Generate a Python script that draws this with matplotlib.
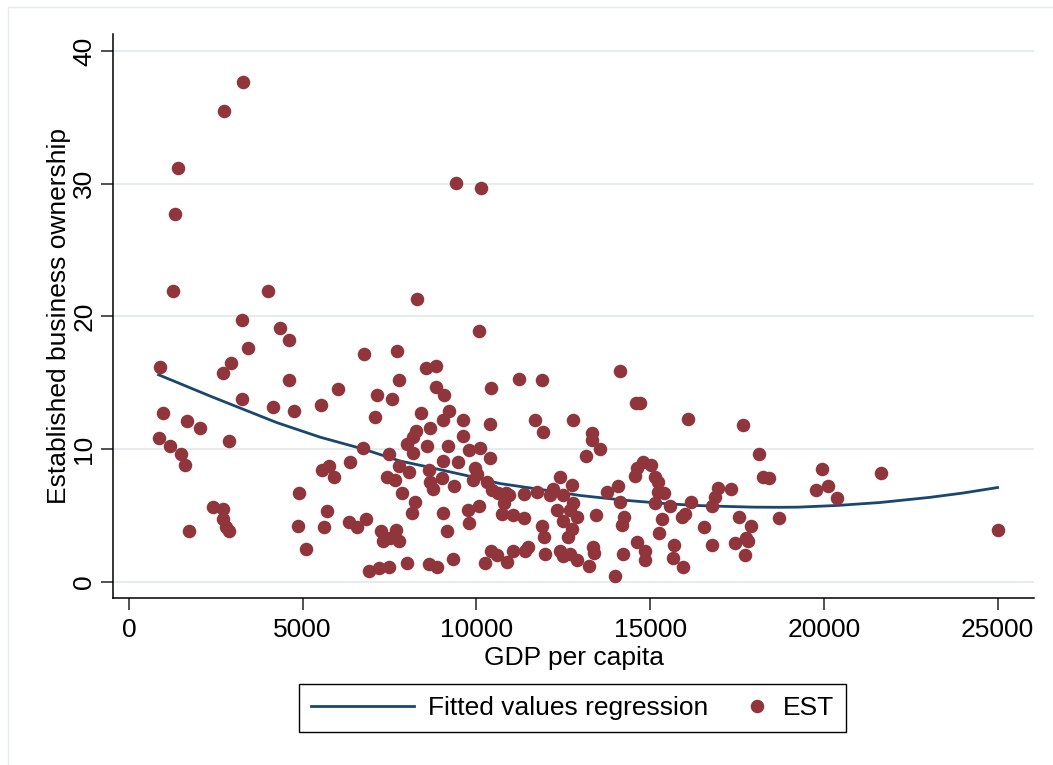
import numpy as np
import matplotlib
matplotlib.use("Agg")
import matplotlib.pyplot as plt
from matplotlib.legend_handler import HandlerPathCollection
from matplotlib.patches import Rectangle

plt.rcParams['font.family'] = ['Liberation Sans', 'DejaVu Sans']

# GDP per capita and established business ownership rate per country-year
gdp = [3281, 2735, 1410, 1324, 1266, 4001, 3252, 4355, 4614, 3434,
       892, 6773, 2927, 2717, 4597, 6008, 3243, 4134, 4750, 5517,
       969, 1680, 2035, 854, 1180, 2888, 1505, 1612, 6745, 6362,
       5546, 5766, 5910, 4902, 5690, 4856, 5613, 2427, 2715, 2697,
       2784, 2879, 1718, 5095, 6341, 6554, 6822, 6917,
       7705, 8560, 8837, 7780, 8837, 9076, 7130, 7561, 7091, 8395,
       8290, 8664, 8261, 8184, 8011, 8568, 7475, 8165, 7780, 8069,
       7418, 7657, 8645, 8674, 8760, 7847, 8233, 8136, 7254, 7303,
       7686, 7780, 7513, 7205, 7493, 8011, 8640, 8856, 9143, 9028,
       9000, 9028, 9220, 9048, 9168,
       9404, 10133, 10075, 10420, 9604, 10391, 9604, 9796, 10103, 10391,
       9480, 9960, 10008, 9911, 9355, 10297, 10441, 10631, 10852, 10948,
       10794, 10727, 11060, 9767, 10084, 9787, 9336, 10248, 10412, 10585,
       10890, 11060,
       11226, 11878, 11687, 11908, 12790, 13318, 13318, 13557, 13145, 11370,
       11734, 12407, 12744, 12215, 12119, 12503, 13750, 14067, 14133, 12311,
       12790, 12694, 12887, 12503, 12744, 12647, 13443, 14258, 14183, 11360,
       11878, 11945, 11495, 11399, 11975, 12407, 12694, 12887, 12503, 13250,
       13366, 13385, 13998, 14210, 14632,
       14133, 14594, 14709, 16082, 17683, 18135, 18240, 18432, 14805, 15017,
       14632, 14565, 15150, 15219, 15219, 15392, 15150, 15573, 15333, 15265,
       14853, 14853, 15688, 15650, 15957, 16177, 16005, 15909, 16561, 16791,
       16945, 16868, 16772, 17329, 17559, 17895, 17751, 17444, 17827, 17732,
       18720, 19942, 19775, 20130, 20371, 21637, 25000]
est = [37.7, 35.5, 31.2, 27.7, 21.9, 21.9, 19.7, 19.1, 18.2, 17.6,
       16.2, 17.2, 16.5, 15.7, 15.2, 14.5, 13.8, 13.2, 12.9, 13.3,
       12.7, 12.1, 11.6, 10.8, 10.2, 10.6, 9.6, 8.8, 10.1, 9.0,
       8.4, 8.7, 7.9, 6.7, 5.3, 4.2, 4.1, 5.6, 5.5, 4.7,
       4.1, 3.8, 3.8, 2.5, 4.5, 4.1, 4.7, 0.8,
       17.4, 16.1, 16.3, 15.2, 14.7, 14.1, 14.1, 13.8, 12.4, 12.7,
       21.3, 11.6, 11.4, 10.9, 10.4, 10.2, 9.6, 9.7, 8.7, 8.3,
       7.9, 7.7, 8.4, 7.5, 7.0, 6.7, 6.0, 5.2, 3.8, 3.1,
       3.9, 3.1, 3.3, 1.0, 1.1, 1.4, 1.3, 1.1, 3.8, 5.2,
       7.8, 9.1, 12.9, 12.2, 10.2,
       30.1, 29.7, 18.9, 14.6, 12.2, 11.9, 11.0, 9.9, 10.1, 9.3,
       9.0, 8.6, 8.1, 7.7, 7.2, 7.5, 6.9, 6.7, 6.7, 6.5,
       5.9, 5.1, 5.0, 5.4, 5.7, 4.4, 1.7, 1.4, 2.3, 2.0,
       1.5, 2.3,
       15.3, 15.2, 12.2, 11.3, 12.2, 11.2, 10.7, 10.0, 9.5, 6.6,
       6.8, 7.9, 7.3, 7.0, 6.5, 6.5, 6.8, 7.2, 6.0, 5.4,
       5.9, 5.4, 4.9, 4.6, 4.0, 3.4, 5.0, 4.9, 4.3, 4.8,
       4.2, 3.4, 2.6, 2.3, 2.1, 2.3, 2.1, 1.6, 1.9, 1.2,
       2.6, 2.2, 0.45, 2.1, 3.0,
       15.9, 13.5, 13.5, 12.3, 11.8, 9.6, 7.9, 7.8, 9.0, 8.8,
       8.6, 8.0, 7.9, 7.5, 6.8, 6.7, 5.9, 5.7, 4.7, 3.7,
       2.3, 1.6, 2.8, 1.8, 1.1, 6.0, 5.1, 4.9, 4.1, 2.8,
       7.1, 6.4, 5.7, 7.0, 4.9, 4.2, 3.3, 2.9, 3.1, 2.0,
       4.8, 8.5, 6.9, 7.2, 6.3, 8.2, 3.9]

# fitted values of the quadratic regression
fit_gdp = [854, 2332, 3290, 4251, 5498, 6745, 7801, 8520, 9720, 10680,
           12119, 12982, 14229, 15380, 16300, 17107, 18000, 18739, 19257,
           20400, 21617, 23057, 24016, 25000]
fit_values = [15.6, 14.0, 13.0, 12.0, 10.9, 10.0, 9.1, 8.7, 8.0, 7.4,
              6.85, 6.5, 6.15, 5.9, 5.75, 5.68, 5.62, 5.61, 5.62,
              5.75, 5.97, 6.36, 6.69, 7.1]

x_ticks = [0, 5000, 10000, 15000, 20000, 25000]
y_ticks = [0, 10, 20, 30, 40]

NAVY = '#1A476F'
MAROON = '#90353B'
GRID = '#E4ECEE'


class MarkerRightHandler(HandlerPathCollection):
    # puts the single legend marker near the right end of the handle box
    def get_xdata(self, legend, xdescent, ydescent, width, height, fontsize):
        x = -xdescent + width - 0.45 * fontsize
        return [x, x], [x]


fig = plt.figure(figsize=(10.53, 7.65), dpi=100)
ax = fig.add_axes([0.1073, 0.2183, 0.8747, 0.7373])

fit_line, = ax.plot(fit_gdp, fit_values, color=NAVY, lw=2.0,
                    label='Fitted values regression', zorder=3)
pts = ax.scatter(gdp, est, s=95, color=MAROON, linewidths=0,
                 label='EST', zorder=4)

ax.set_xlim(-460, 26050)
ax.set_ylim(-1.23, 41.3)
ax.set_xticks(x_ticks)
ax.set_yticks(y_ticks)
ax.yaxis.grid(True, color=GRID, lw=1.4)
ax.set_axisbelow(True)

for side in ['top', 'right']:
    ax.spines[side].set_visible(False)
for side in ['left', 'bottom']:
    ax.spines[side].set_linewidth(1.1)

ax.tick_params(axis='both', direction='out', length=8.5, width=1.1,
               labelsize=19, color='#222222')
ax.tick_params(axis='x', pad=6)
ax.tick_params(axis='y', pad=3.5, labelrotation=90)
for lab in ax.get_yticklabels():
    lab.set_va('center')

ax.set_xlabel('GDP per capita', fontsize=19)
ax.set_ylabel('Established business ownership', fontsize=19)
ax.xaxis.set_label_coords(0.5, -0.085)
ax.yaxis.set_label_coords(-0.046, 0.5)

leg = ax.legend(handles=[fit_line, pts], ncol=2, fontsize=19,
                loc='center', bbox_to_anchor=(0.5437, 0.0745),
                bbox_transform=fig.transFigure,
                frameon=True, fancybox=False, edgecolor='black',
                framealpha=1, borderpad=0.45, handlelength=3.9,
                handletextpad=0.53, columnspacing=-1.63,
                scatterpoints=1, scatteryoffsets=[0.5],
                handler_map={pts: MarkerRightHandler()})
leg.get_frame().set_linewidth(1.0)

# thin outer frame of the graph region
fig.patches.append(Rectangle((0.0076, -0.02), 1.1, 1.0108, transform=fig.transFigure,
                             fill=False, edgecolor=GRID, lw=1.0))

fig.savefig('out.png', dpi=100, facecolor='white')
